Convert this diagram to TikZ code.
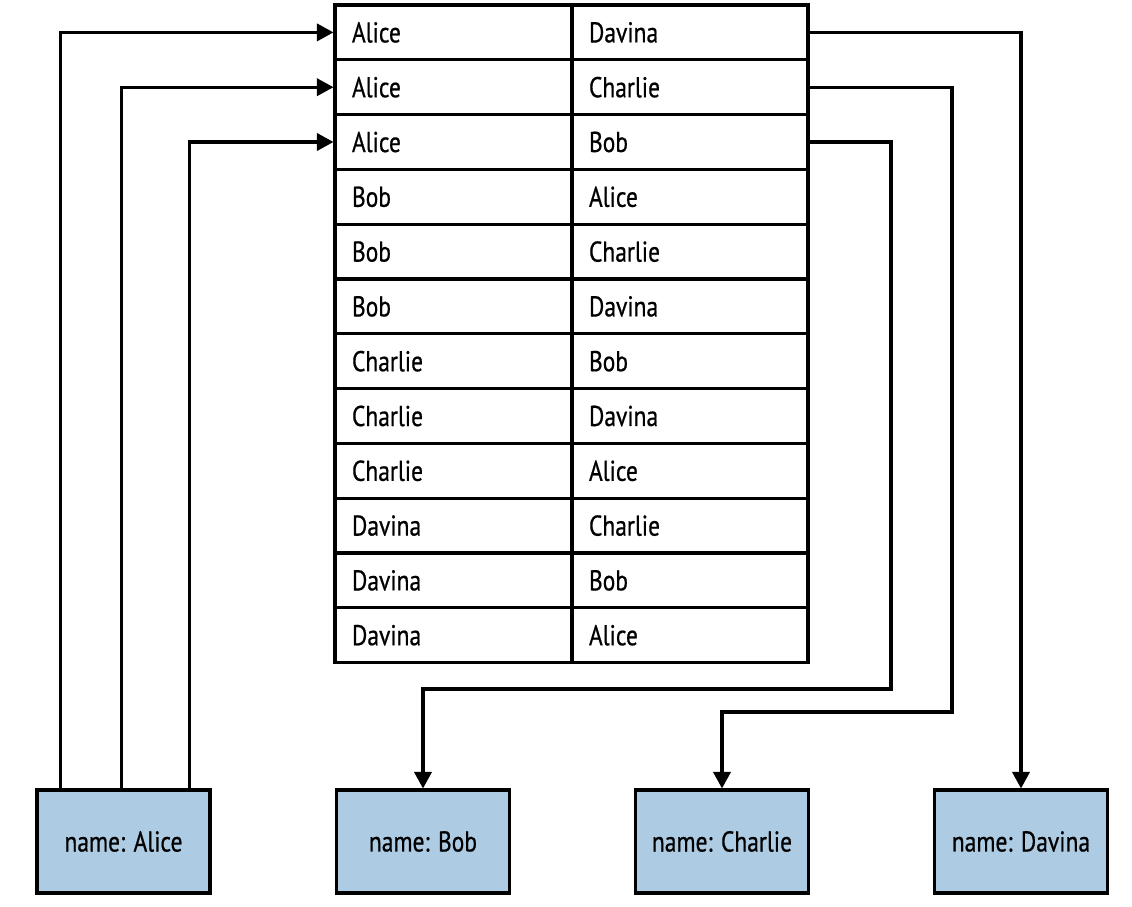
\documentclass[tikz,border=0pt]{standalone}
\usepackage{fontspec}
\setmainfont[FakeStretch=0.82,FakeBold=0.6]{PT Sans}
\usetikzlibrary{arrows.meta}
\definecolor{boxblue}{RGB}{173,204,228}
\tikzset{
  txt/.style={font=\fontsize{21.5}{23}\selectfont},
  cellL/.style={txt, draw, line width=2.3pt, minimum width=177.75pt, minimum height=41.1pt,
    inner xsep=12.75pt, text width=152.25pt, align=left},
  cellR/.style={txt, draw, line width=2.3pt, minimum width=177pt, minimum height=41.1pt,
    inner xsep=12.75pt, text width=151.5pt, align=left},
  person/.style={txt, draw, line width=2.3pt, fill=boxblue, minimum width=129.75pt, minimum height=77.25pt,
    inner sep=0pt},
  link/.style={line width=2.3pt, -{Triangle[length=12.5pt,width=13pt]}},
}
\begin{document}
\begin{tikzpicture}[x=0.75pt,y=-0.75pt]
\useasboundingbox (0,0) rectangle (1132,907);
% table
\foreach \i/\a/\b in {1/Alice/Davina,2/Alice/Charlie,3/Alice/Bob,4/Bob/Alice,5/Bob/Charlie,6/Bob/Davina,
  7/Charlie/Bob,8/Charlie/Davina,9/Charlie/Alice,10/Davina/Charlie,11/Davina/Bob,12/Davina/Alice}{
  \node[cellL] (c\i l) at (453.5,{5+54.8*(\i-0.5)}) {\a};
  \node[cellR] (c\i r) at (690,{5+54.8*(\i-0.5)}) {\b};
}
% people
\node[person] (ab) at (123.5,841.5) {name: Alice};
\node[person] (bb) at (423,841.5) {name: Bob};
\node[person] (cb) at (722,841.5) {name: Charlie};
\node[person] (db) at (1021,841.5) {name: Davina};
% corners
\coordinate (k2) at (952,712);
\coordinate (k3) at (891,689);
% Alice's outgoing edges
\draw[link] ([xshift=25*0.75pt]ab.north west) |- (c1l.west);
\draw[link] ([xshift=86*0.75pt]ab.north west) |- (c2l.west);
\draw[link] ([xshift=154*0.75pt]ab.north west) |- (c3l.west);
% incoming edges
\draw[link] (c1r.east) -| (db.north);
\draw[link] (c2r.east) -| (k2) -| (cb.north);
\draw[link] (c3r.east) -| (k3) -| (bb.north);
\end{tikzpicture}
\end{document}
